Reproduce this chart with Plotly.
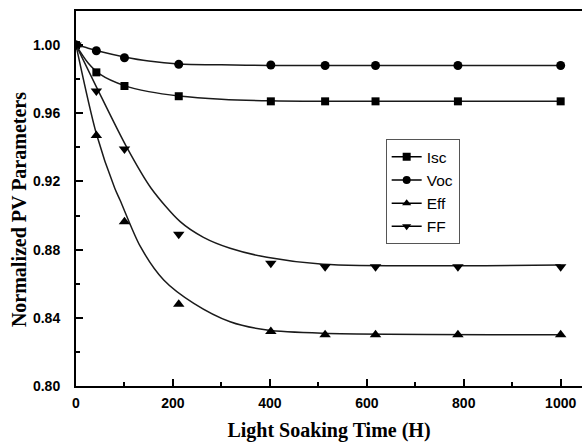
import plotly.graph_objects as go

# Measured data points
time_h = [0, 42, 100, 212, 402, 514, 618, 788, 1000]
isc = [1.0, 0.984, 0.976, 0.970, 0.967, 0.967, 0.967, 0.967, 0.967]
voc = [1.0, 0.9967, 0.9926, 0.9887, 0.9883, 0.988, 0.988, 0.988, 0.988]
eff = [1.0, 0.947, 0.8964, 0.848, 0.832, 0.830, 0.830, 0.830, 0.830]
ff = [1.0, 0.973, 0.939, 0.889, 0.872, 0.870, 0.870, 0.870, 0.870]

# Fitted curves
isc_fit_x = [0, 25, 50, 100, 150, 212, 300, 400, 500, 1000]
isc_fit = [1.0, 0.9895, 0.9828, 0.9762, 0.9727, 0.9702, 0.9683, 0.9673, 0.967, 0.967]
voc_fit_x = [0, 25, 50, 100, 150, 212, 300, 400, 500, 1000]
voc_fit = [1.0, 0.9982, 0.9962, 0.9930, 0.9906, 0.9889, 0.9884, 0.9881, 0.988, 0.988]
eff_fit_x = [0, 42, 80, 91, 133, 181, 243, 318, 394, 510, 1000]
eff_fit = [1.0, 0.948, 0.916, 0.909, 0.8817, 0.8622, 0.8485, 0.8377, 0.8328, 0.8309, 0.830]
ff_fit_x = [0, 42, 104, 155, 215, 263, 318, 394, 510, 1000]
ff_fit = [1.0, 0.9755, 0.9404, 0.916, 0.8964, 0.8872, 0.8808, 0.8755, 0.8714, 0.871]

names = ["Isc", "Voc", "Eff", "FF"]
symbols = ["square", "circle", "triangle-up", "triangle-down"]
sizes = [8, 9, 10, 10]
points = [isc, voc, eff, ff]
fit_xs = [isc_fit_x, voc_fit_x, eff_fit_x, ff_fit_x]
fits = [isc_fit, voc_fit, eff_fit, ff_fit]

fig = go.Figure()
for name, sym, sz, pts, fx, fit in zip(names, symbols, sizes, points, fit_xs, fits):
    fig.add_trace(go.Scatter(x=fx, y=fit, mode="lines",
                             line=dict(color="#1a1a1a", width=1.5, shape="spline", smoothing=0.8),
                             showlegend=False, hoverinfo="skip"))
    fig.add_trace(go.Scatter(x=time_h, y=pts, mode="markers",
                             marker=dict(symbol=sym, size=sz, color="black"),
                             showlegend=False, name=name))
for name, sym in zip(names, symbols):
    fig.add_trace(go.Scatter(x=[None], y=[None], mode="lines+markers", name=name,
                             line=dict(color="black", width=1.5),
                             marker=dict(symbol=sym, size=8, color="black")))

fig.update_layout(
    width=582, height=443,
    margin=dict(l=76, r=0, t=11, b=57),
    paper_bgcolor="white", plot_bgcolor="white",
    font=dict(family="Liberation Sans, Arial", color="black"),
    legend=dict(x=0.612, y=0.658, xanchor="left", yanchor="top",
                bordercolor="#555", borderwidth=1, bgcolor="white",
                font=dict(size=15.5, family="Liberation Sans, Arial"), tracegroupgap=0),
    xaxis=dict(range=[0, 1044], tickvals=[0, 200, 400, 600, 800, 1000], automargin=False,
               ticks="inside", ticklen=7, tickwidth=1.5, tickcolor="black",
               minor=dict(tickvals=[100, 300, 500, 700, 900], ticks="inside", ticklen=4,
                          tickwidth=1.5, tickcolor="black"),
               showline=True, linecolor="black", linewidth=2, mirror=True,
               showgrid=False, zeroline=False, ticklabelstandoff=3,
               tickfont=dict(size=14, weight="bold"),
               title=dict(text="Light Soaking Time (H)", standoff=13,
                          font=dict(family="Liberation Serif, Times New Roman", size=20, weight="bold"))),
    yaxis=dict(range=[0.80, 1.02], tickvals=[0.80, 0.84, 0.88, 0.92, 0.96, 1.00], automargin=False,
               ticktext=["0.80", "0.84", "0.88", "0.92", "0.96", "1.00"],
               ticks="inside", ticklen=7, tickwidth=1.5, tickcolor="black",
               minor=dict(tickvals=[0.82, 0.86, 0.90, 0.94, 0.98], ticks="inside", ticklen=4,
                          tickwidth=1.5, tickcolor="black"),
               showline=True, linecolor="black", linewidth=2, mirror=False,
               showgrid=False, zeroline=False, ticklabelstandoff=11,
               tickfont=dict(size=14, weight="bold")),
    annotations=[dict(text="<b>Normalized PV Parameters</b>", textangle=-90,
                      xref="paper", yref="paper", x=-0.1127, y=0.4716,
                      xanchor="center", yanchor="middle", showarrow=False,
                      font=dict(family="Liberation Serif, Times New Roman", size=20))],
)

fig.write_html("out.html", config={"displayModeBar": False},
               post_script="document.body.style.margin='0px';")
